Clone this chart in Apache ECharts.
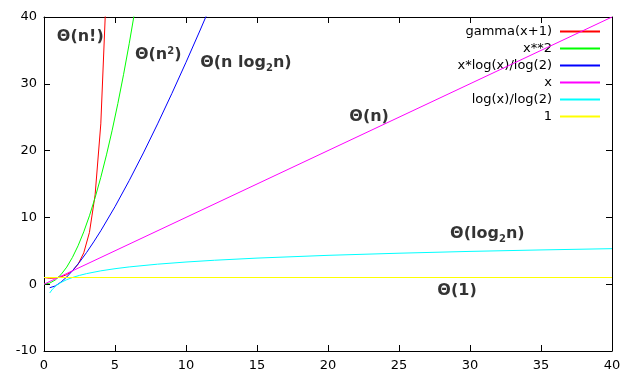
<!DOCTYPE html>
<html>
<head>
<meta charset="utf-8">
<script src="https://cdn.jsdelivr.net/npm/echarts@6/dist/echarts.min.js"></script>
<style>html,body{margin:0;padding:0;background:#fff}#c{width:640px;height:384px}</style>
</head>
<body>
<div id="c"></div>
<script>
// Series names (legend)
var seriesNames = ['gamma(x+1)', 'x**2', 'x*log(x)/log(2)', 'x', 'log(x)/log(2)', '1'];
// gamma(x+1)
var gammaPts = [[0,1],[0.4,0.887],[0.8,0.931],[1.2,1.102],[1.6,1.430],[2.0,2.0],[2.4,2.981],[2.8,4.694],[3.2,7.757],[3.6,13.38],[4.0,24.0],[4.4,44.6]];
// x**2
var squarePts = [[0,0],[0.4,0.16],[0.8,0.64],[1.2,1.44],[1.6,2.56],[2.0,4.0],[2.4,5.76],[2.8,7.84],[3.2,10.24],[3.6,12.96],[4.0,16.0],[4.4,19.36],[4.8,23.04],[5.2,27.04],[5.6,31.36],[6.0,36.0],[6.4,40.96]];
// x*log2(x)
var nlognPts = [[0.4,-0.53],[0.8,-0.26],[1.2,0.32],[1.6,1.08],[2,2],[2.5,3.30],[3,4.75],[3.5,6.33],[4,8],[5,11.61],[6,15.51],[7,19.65],[8,24],[9,28.53],[10,33.22],[11,38.05],[12,43.02]];
// x
var linearPts = [[0,0],[40,40]];
// log2(x)
var logPts = [[0.4,-1.32],[0.6,-0.74],[0.8,-0.32],[1.0,0],[1.2,0.263],[1.6,0.678],[2,1],[2.5,1.32],[3,1.585],[4,2],[5,2.32],[6,2.585],[8,3],[10,3.32],[12,3.585],[15,3.907],[20,4.32],[25,4.64],[30,4.91],[35,5.13],[40,5.32]];
// 1
var constPts = [[0,1],[40,1]];
// annotation labels [x, y, text]
var annotations = [
  [0.9, 37.0, '{a|Θ(n!)}'],
  [6.4, 34.3, '{a|Θ(n}{p|2}{a|)}'],
  [11.0, 33.1, '{a|Θ(n log}{s|2}{a|n)}'],
  [21.5, 25.0, '{a|Θ(n)}'],
  [28.6, 7.6, '{a|Θ(log}{s|2}{a|n)}'],
  [27.7, -1.05, '{a|Θ(1)}']
];
var xTicks = {min: 0, max: 40, interval: 5};
var yTicks = {min: -10, max: 40, interval: 10};

var colors = ['#ff0000', '#00ff00', '#0000ff', '#ff00ff', '#00ffff', '#ffff00'];
var dataSets = [gammaPts, squarePts, nlognPts, linearPts, logPts, constPts];
var FONT = 'DejaVu Sans';

var chart = echarts.init(document.getElementById('c'), null, {renderer: 'canvas'});
var black = {color: '#000', width: 1};
function xAx(pos, showLabel) {
  return {type: 'value', position: pos, min: xTicks.min, max: xTicks.max, interval: xTicks.interval,
    axisLine: {show: true, onZero: false, lineStyle: black},
    axisTick: {show: true, inside: true, length: 6, lineStyle: black},
    axisLabel: {show: showLabel, color: '#000', fontSize: 13, fontFamily: FONT, margin: 8},
    splitLine: {show: false}};
}
function yAx(pos, showLabel) {
  return {type: 'value', position: pos, min: yTicks.min, max: yTicks.max, interval: yTicks.interval,
    axisLine: {show: true, onZero: false, lineStyle: black},
    axisTick: {show: true, inside: true, length: 6, lineStyle: black},
    axisLabel: {show: showLabel, color: '#000', fontSize: 13, fontFamily: FONT, margin: 7},
    splitLine: {show: false}};
}
var series = seriesNames.map(function (n, i) {
  return {name: n, type: 'line', data: dataSets[i], symbol: 'none', showSymbol: false,
    lineStyle: {color: colors[i], width: 1}, itemStyle: {color: colors[i]}, clip: true, z: 2 + i};
});
series.push({
  name: 'annotations', type: 'scatter', symbolSize: 0, z: 20,
  data: annotations.map(function (a) { return {value: [a[0], a[1]], text: a[2]}; }),
  label: {show: true, position: [0, 0], align: 'left', verticalAlign: 'middle', color: '#000',
    formatter: function (p) { return p.data.text; },
    rich: {
      a: {fontFamily: FONT, fontSize: 16, fontWeight: 'bold', color: '#000', lineHeight: 20},
      s: {fontFamily: FONT, fontSize: 10, fontWeight: 'bold', color: '#000', lineHeight: 20, padding: [11, 0, 0, 0]},
      p: {fontFamily: FONT, fontSize: 10, fontWeight: 'bold', color: '#000', lineHeight: 20, padding: [0, 0, 8, 0]}
    }}
});

chart.setOption({
  animation: false,
  backgroundColor: '#fff',
  grid: {left: 44, right: 28, top: 17, bottom: 33, containLabel: false},
  xAxis: [xAx('bottom', true), xAx('top', false)],
  yAxis: [yAx('left', true), yAx('right', false)],
  legend: {
    data: seriesNames, orient: 'vertical', right: 35, top: 18, align: 'right',
    icon: 'rect', itemWidth: 40, itemHeight: 2, itemGap: 0, selectedMode: false,
    textStyle: {fontFamily: FONT, fontSize: 13, color: '#000', lineHeight: 17, padding: [0, 3, 0, 0]}
  },
  series: series
});
</script>
</body>
</html>
